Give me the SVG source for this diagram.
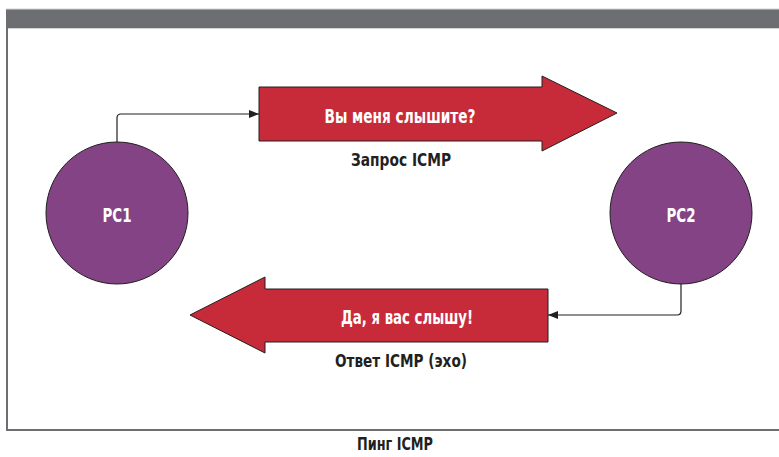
<svg xmlns="http://www.w3.org/2000/svg" width="779" height="457" viewBox="0 0 779 457">
<defs>
<style>
.t{font-family:"DejaVu Sans Condensed","DejaVu Sans","Liberation Sans",sans-serif;font-weight:bold;text-anchor:middle}
.w{fill:#ffffff}
.d{fill:#231f20}
.node{fill:#834385;stroke:#231f20;stroke-width:1}
.arr{fill:#c72b3a;stroke:#231f20;stroke-width:1}
.conn{fill:none;stroke:#231f20;stroke-width:1.2}
</style>
<marker id="ah" viewBox="0 0 10 8" refX="10" refY="4" markerWidth="10" markerHeight="8" markerUnits="userSpaceOnUse" orient="auto">
<path d="M0,0 L10,4 L0,8 Z" fill="#231f20"/>
</marker>
</defs>
<g id="frame">
<rect x="7" y="10" width="800" height="420" fill="#ffffff" stroke="#6d6e71" stroke-width="2"/>
<line x1="6" y1="9" x2="779" y2="9" stroke="#d1d3d4" stroke-width="1"/>
<rect x="6" y="10" width="773" height="18" fill="#6d6e71"/>
<line x1="8" y1="28.5" x2="779" y2="28.5" stroke="#d1d3d4" stroke-width="1"/>
</g>
<g id="connectors">
<path class="conn" d="M117,143 V118 Q117,114 121,114 H259" marker-end="url(#ah)"/>
<path class="conn" d="M681,284 V311 Q681,315 677,315 H548" marker-end="url(#ah)"/>
</g>
<g id="pc1">
<circle class="node" cx="117" cy="213" r="71"/>
<text class="t w" x="117" y="222" font-size="20" textLength="29" lengthAdjust="spacingAndGlyphs">PC1</text>
</g>
<g id="pc2">
<circle class="node" cx="681" cy="213" r="71"/>
<text class="t w" x="681" y="222" font-size="20" textLength="29" lengthAdjust="spacingAndGlyphs">PC2</text>
</g>
<g id="request">
<path class="arr" d="M259,87 H542 V76 L617,113 L542,151 V141 H259 Z"/>
<text class="t w" x="400" y="123" font-size="19" textLength="151" lengthAdjust="spacingAndGlyphs">Вы меня слышите?</text>
<text class="t d" x="401" y="166" font-size="17" textLength="100" lengthAdjust="spacingAndGlyphs">Запрос ICMP</text>
</g>
<g id="reply">
<path class="arr" d="M548,289 H265 V277 L190,315 L265,353 V342 H548 Z"/>
<text class="t w" x="407" y="324" font-size="19" textLength="132" lengthAdjust="spacingAndGlyphs">Да, я вас слышу!</text>
<text class="t d" x="401" y="367" font-size="17" textLength="132" lengthAdjust="spacingAndGlyphs">Ответ ICMP (эхо)</text>
</g>
<g id="caption">
<text class="t d" x="395" y="450" font-size="17" textLength="76" lengthAdjust="spacingAndGlyphs">Пинг ICMP</text>
</g>
</svg>
